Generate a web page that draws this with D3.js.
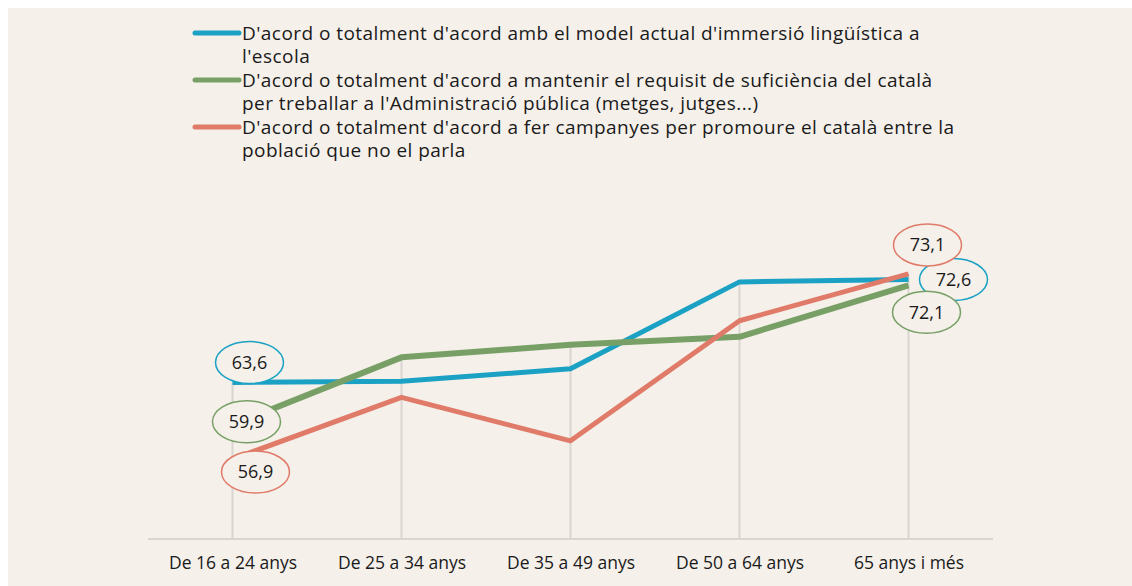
<!DOCTYPE html>
<html>
<head>
<meta charset="utf-8">
<script src="https://cdn.jsdelivr.net/npm/d3@7"></script>
<style>
  body { margin: 0; background: #fff; }
  svg { display: block; }
</style>
</head>
<body>
<svg width="1132" height="586"></svg>
<script>
// Chart data
const categories = ["De 16 a 24 anys", "De 25 a 34 anys", "De 35 a 49 anys", "De 50 a 64 anys", "65 anys i més"];
const seriesNames = [
  ["D'acord o totalment d'acord amb el model actual d'immersió lingüística a", "l'escola"],
  ["D'acord o totalment d'acord a mantenir el requisit de suficiència del català", "per treballar a l'Administració pública (metges, jutges...)"],
  ["D'acord o totalment d'acord a fer campanyes per promoure el català entre la", "població que no el parla"]
];
const immersioValues = [63.6, 63.7, 64.8, 72.4, 72.6];
const requisitValues = [59.9, 65.8, 66.9, 67.6, 72.1];
const campanyesValues = [56.9, 62.3, 58.5, 69.0, 73.1];
const yDomain = [50, 80];

// Only the first and last points get a label bubble
const labelIndex = [0, 4];

// Styling per series (not data)
const colors = ["#1aa1c4", "#78a066", "#e07b69"];
const widths = [5, 6, 5];
// Bubble offsets relative to the point: [first, last]
const bubbleOffsets = [
  [[17, -20], [45, 0]],
  [[14, -3], [18, 27]],
  [[23, 13], [19, -29]]
];

const series = [immersioValues, requisitValues, campanyesValues].map((v, i) => ({
  name: seriesNames[i], values: v, color: colors[i], width: widths[i], offsets: bubbleOffsets[i]
}));

var svg = d3.select("svg");
const bg = "#f5f0ea";

svg.append("rect")
  .attr("x", 8).attr("y", 8)
  .attr("width", 1124).attr("height", 578)
  .attr("fill", bg);

var x = d3.scalePoint().domain(categories).range([148, 993]).padding(0.5);
var y = d3.scaleLinear().domain(yDomain).range([538, 195]);

// Drop lines from the highest point to the axis
svg.append("g")
  .selectAll("line")
  .data(categories)
  .enter().append("line")
  .attr("x1", d => x(d)).attr("x2", d => x(d))
  .attr("y1", (d, i) => y(d3.max(series, s => s.values[i])))
  .attr("y2", y(yDomain[0]))
  .attr("stroke", "#d9d5d0")
  .attr("stroke-width", 2);

// X axis
var xAxis = svg.append("g")
  .attr("transform", "translate(0," + (y(yDomain[0]) + 1) + ")")
  .call(d3.axisBottom(x).tickSize(0).tickPadding(18));
xAxis.select(".domain")
  .attr("d", "M148,0H993")
  .attr("stroke", "#d9d5d0")
  .attr("stroke-width", 2);
xAxis.selectAll("text")
  .attr("font-family", "'Open Sans', sans-serif")
  .attr("font-size", 17.5)
  .attr("fill", "#1a1a1a");

// Lines
var line = d3.line()
  .x((d, i) => x(categories[i]))
  .y(d => y(d));

svg.append("g")
  .selectAll("path")
  .data(series)
  .enter().append("path")
  .attr("d", d => line(d.values))
  .attr("fill", "none")
  .attr("stroke", d => d.color)
  .attr("stroke-width", d => d.width)
  .attr("stroke-linejoin", "round");

// Label bubbles
const fmt = v => d3.format(".1f")(v).replace(".", ",");
series.forEach(s => {
  labelIndex.forEach((idx, k) => {
    const cx = x(categories[idx]) + s.offsets[k][0];
    const cy = y(s.values[idx]) + s.offsets[k][1];
    svg.append("ellipse")
      .attr("cx", cx).attr("cy", cy)
      .attr("rx", 34).attr("ry", 21)
      .attr("fill", bg)
      .attr("stroke", s.color)
      .attr("stroke-width", 1.5);
    svg.append("text")
      .attr("x", cx).attr("y", cy)
      .attr("dy", "0.35em")
      .attr("text-anchor", "middle")
      .attr("font-family", "'Open Sans', sans-serif")
      .attr("font-size", 18)
      .attr("fill", "#1a1a1a")
      .text(fmt(s.values[idx]));
  });
});

// Legend
var legend = svg.append("g").attr("transform", "translate(0,33)");
series.forEach((s, i) => {
  var g = legend.append("g").attr("transform", "translate(0," + (i * 47) + ")");
  g.append("line")
    .attr("x1", 195).attr("x2", 239)
    .attr("stroke", s.color)
    .attr("stroke-width", 5)
    .attr("stroke-linecap", "round");
  g.selectAll("text")
    .data(s.name)
    .enter().append("text")
    .attr("x", 242)
    .attr("y", (d, j) => j * 23.5)
    .attr("dy", "0.35em")
    .attr("font-family", "'Open Sans', sans-serif")
    .attr("font-size", 19)
    .attr("letter-spacing", 0.45)
    .attr("fill", "#1a1a1a")
    .text(d => d);
});
</script>
</body>
</html>
